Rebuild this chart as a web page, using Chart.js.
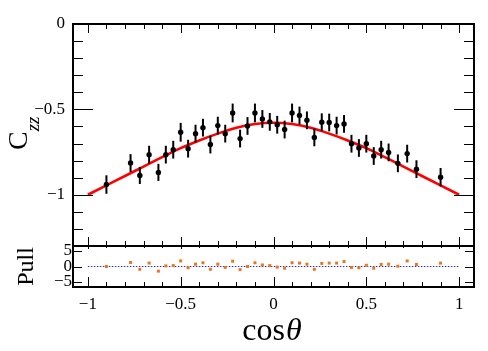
<!DOCTYPE html>
<html>
<head>
<meta charset="utf-8">
<script src="https://cdn.jsdelivr.net/npm/chart.js@4/dist/chart.umd.min.js"></script>
<style>
  html, body { margin: 0; padding: 0; background: #fff; }
  canvas { display: block; }
</style>
</head>
<body>
<canvas id="czzChart" width="488" height="351"></canvas>
<script>
// data points (bin centres in cos theta) and measured C_zz
const cosTheta = [-0.90, -0.77, -0.72, -0.67, -0.62, -0.58, -0.54, -0.50, -0.46, -0.42,
                  -0.38, -0.34, -0.30, -0.26, -0.22, -0.18, -0.14, -0.10, -0.06, -0.02,
                   0.02,  0.06,  0.10,  0.14,  0.18,  0.22,  0.26,  0.30,  0.34,  0.38,
                   0.42,  0.46,  0.50,  0.54,  0.58,  0.62,  0.67,  0.72,  0.77,  0.90];
const czz = [-0.940, -0.814, -0.887, -0.765, -0.869, -0.765, -0.736, -0.634, -0.730, -0.642,
             -0.607, -0.706, -0.595, -0.642, -0.521, -0.671, -0.597, -0.521, -0.556, -0.573,
             -0.590, -0.618, -0.521, -0.536, -0.564, -0.664, -0.575, -0.577, -0.595, -0.585,
             -0.701, -0.726, -0.701, -0.773, -0.736, -0.752, -0.816, -0.759, -0.850, -0.897];
const czzErr = [0.054, 0.052, 0.050, 0.052, 0.050, 0.052, 0.052, 0.055, 0.052, 0.052,
                0.052, 0.052, 0.052, 0.052, 0.055, 0.052, 0.052, 0.055, 0.052, 0.052,
                0.052, 0.052, 0.055, 0.052, 0.052, 0.052, 0.052, 0.052, 0.052, 0.052,
                0.052, 0.052, 0.052, 0.052, 0.052, 0.052, 0.052, 0.052, 0.052, 0.054];
// pull of each point
const pull = [0.0, 1.3, -0.9, 1.1, -1.5, 0.2, 0.3, 1.8, -0.4, 0.75,
              1.2, -0.9, 0.75, -0.3, 1.7, -1.0, 0.0, 1.2, 0.5, 0.3,
              -0.2, -0.55, 1.2, 1.1, 0.75, -0.9, 1.0, 1.1, 1.1, 1.6,
              -0.3, -0.4, 0.4, -0.55, 0.65, 0.75, 0.1, 1.8, 0.65, 1.1];
// fit curve
const fitX = [-1.0, -0.9, -0.8, -0.7, -0.6, -0.5, -0.4, -0.3, -0.2, -0.1, 0.0,
               0.1,  0.2,  0.3,  0.4,  0.5,  0.6,  0.7,  0.8,  0.9, 1.0];
const fitY = [-1.000, -0.945, -0.890, -0.835, -0.780, -0.727, -0.682, -0.642, -0.608, -0.586, -0.578,
              -0.586, -0.608, -0.642, -0.682, -0.727, -0.780, -0.835, -0.890, -0.945, -1.000];
// axis ticks
const xTicks = [-1, -0.5, 0, 0.5, 1];
const yTicks = [-1, -0.5, 0];
const pullTicks = [-5, 0, 5];

const serif = "'Liberation Serif', 'DejaVu Serif', serif";

function fmt(v) {
    return v < 0 ? '\u2212' + (-v) : String(v);
}

// frame, inward tick marks, error bars and axis titles, ROOT style
const rootFrame = {
    id: 'rootFrame',
    afterDatasetsDraw(chart) {
        const { ctx, scales: { x, y } } = chart;
        ctx.save();
        ctx.strokeStyle = '#000';
        ctx.lineWidth = 2;
        chart.data.datasets[0].data.forEach((p, i) => {
            const px = x.getPixelForValue(p.x);
            ctx.beginPath();
            ctx.moveTo(px, y.getPixelForValue(p.y - czzErr[i]));
            ctx.lineTo(px, y.getPixelForValue(p.y + czzErr[i]));
            ctx.stroke();
        });
        ctx.restore();
    },
    afterDraw(chart) {
        const { ctx, scales: { x, y, yPull } } = chart;
        const L = x.left, R = x.right;
        ctx.save();
        ctx.strokeStyle = '#000';

        // tick marks
        ctx.lineWidth = 1;
        ctx.beginPath();
        for (let k = -13; k <= 0; k++) {
            const v = k / 10;
            const py = Math.round(y.getPixelForValue(v)) + 0.5;
            const len = (k % 5 === 0) ? 20 : 10;
            ctx.moveTo(L, py); ctx.lineTo(L + len, py);
            ctx.moveTo(R, py); ctx.lineTo(R - len, py);
        }
        for (let k = -10; k <= 10; k++) {
            const px = Math.round(x.getPixelForValue(k / 10)) + 0.5;
            const major = k % 5 === 0;
            ctx.moveTo(px, y.top); ctx.lineTo(px, y.top + (major ? 9 : 5));
            ctx.moveTo(px, y.bottom); ctx.lineTo(px, y.bottom - (major ? 9 : 5));
            ctx.moveTo(px, yPull.top); ctx.lineTo(px, yPull.top + (major ? 3 : 2));
            ctx.moveTo(px, yPull.bottom); ctx.lineTo(px, yPull.bottom - (major ? 10 : 5));
        }
        pullTicks.forEach(v => {
            const py = Math.round(yPull.getPixelForValue(v)) + 0.5;
            ctx.moveTo(L, py); ctx.lineTo(L + 9, py);
            ctx.moveTo(R, py); ctx.lineTo(R - 9, py);
        });
        ctx.stroke();

        // frames
        ctx.lineWidth = 2;
        ctx.strokeRect(L, y.top, R - L, y.bottom - y.top);
        ctx.strokeRect(L, yPull.top, R - L, yPull.bottom - yPull.top);

        // x title: cos + italic theta
        ctx.fillStyle = '#000';
        ctx.textBaseline = 'alphabetic';
        ctx.textAlign = 'left';
        ctx.font = '32px ' + serif;
        const wCos = ctx.measureText('cos').width;
        ctx.font = 'italic 32px ' + serif;
        const wTh = ctx.measureText('\u03b8').width;
        const x0 = x.getPixelForValue(0) - 2 - (wCos + wTh) / 2;
        ctx.font = '32px ' + serif;
        ctx.fillText('cos', x0, 340);
        ctx.font = 'italic 32px ' + serif;
        ctx.fillText('\u03b8', x0 + wCos + 1, 340);

        // y title of the pull panel
        ctx.save();
        ctx.translate(33, (yPull.top + yPull.bottom) / 2);
        ctx.rotate(-Math.PI / 2);
        ctx.textAlign = 'center';
        ctx.font = '24px ' + serif;
        ctx.fillText('Pull', 0, 0);
        ctx.restore();

        // y title of the main panel: C_zz
        ctx.save();
        ctx.translate(27, 150);
        ctx.rotate(-Math.PI / 2);
        ctx.textAlign = 'left';
        ctx.font = '28px ' + serif;
        const wC = ctx.measureText('C').width;
        ctx.fillText('C', 0, 0);
        ctx.font = 'italic 19px ' + serif;
        ctx.fillText('zz', wC, 12);
        ctx.restore();

        ctx.restore();
    }
};

const tickFont = { family: serif, size: 17 };

new Chart(document.getElementById('czzChart'), {
    type: 'scatter',
    data: {
        datasets: [
            {
                label: 'Data',
                data: cosTheta.map((v, i) => ({ x: v, y: czz[i] })),
                yAxisID: 'y',
                pointRadius: 2.7,
                pointBackgroundColor: '#000',
                pointBorderWidth: 0,
                order: 0
            },
            {
                label: 'Fit',
                type: 'line',
                data: fitX.map((v, i) => ({ x: v, y: fitY[i] })),
                yAxisID: 'y',
                borderColor: '#ff0000',
                borderWidth: 2.6,
                pointRadius: 0,
                cubicInterpolationMode: 'monotone',
                order: 2
            },
            {
                label: 'Pull',
                data: cosTheta.map((v, i) => ({ x: v, y: pull[i] })),
                yAxisID: 'yPull',
                pointStyle: 'rect',
                pointRadius: 2.1,
                pointBackgroundColor: '#e8761c',
                pointBorderWidth: 0,
                order: 0
            },
            {
                label: 'Zero',
                type: 'line',
                data: [{ x: -1, y: 0 }, { x: 1, y: 0 }],
                yAxisID: 'yPull',
                borderColor: '#2f2fc8',
                borderWidth: 1,
                borderDash: [1.5, 1.5],
                pointRadius: 0,
                order: 3
            }
        ]
    },
    options: {
        responsive: false,
        animation: false,
        devicePixelRatio: 1,
        layout: { padding: { left: 0, right: 14, top: 24, bottom: 0 } },
        plugins: { legend: { display: false }, tooltip: { enabled: false } },
        scales: {
            x: {
                type: 'linear',
                position: 'bottom',
                min: -1.08,
                max: 1.08,
                grid: { display: false, drawTicks: false },
                border: { display: false },
                afterBuildTicks: s => { s.ticks = xTicks.map(v => ({ value: v })); },
                afterFit: s => { s.height = 64; },
                ticks: { font: tickFont, color: '#000', padding: 7, maxRotation: 0,
                         autoSkip: false, callback: v => fmt(v) }
            },
            // listed first so that it is stacked below the main panel
            yPull: {
                type: 'linear',
                position: 'left',
                stack: 'panels',
                stackWeight: 41,
                min: -6.6,
                max: 6.6,
                grid: { display: false, drawTicks: false },
                border: { display: false },
                afterBuildTicks: s => { s.ticks = pullTicks.map(v => ({ value: v })); },
                afterFit: s => { s.width = 73; },
                ticks: { font: tickFont, color: '#000', padding: 1, autoSkip: false,
                         callback: v => fmt(v) }
            },
            y: {
                type: 'linear',
                position: 'left',
                stack: 'panels',
                stackWeight: 222,
                min: -1.3,
                max: 0,
                grid: { display: false, drawTicks: false },
                border: { display: false },
                afterBuildTicks: s => { s.ticks = yTicks.map(v => ({ value: v })); },
                afterFit: s => { s.width = 73; },
                ticks: { font: tickFont, color: '#000', padding: 8, autoSkip: false,
                         callback: v => fmt(v) }
            }
        }
    },
    plugins: [rootFrame]
});
</script>
</body>
</html>
